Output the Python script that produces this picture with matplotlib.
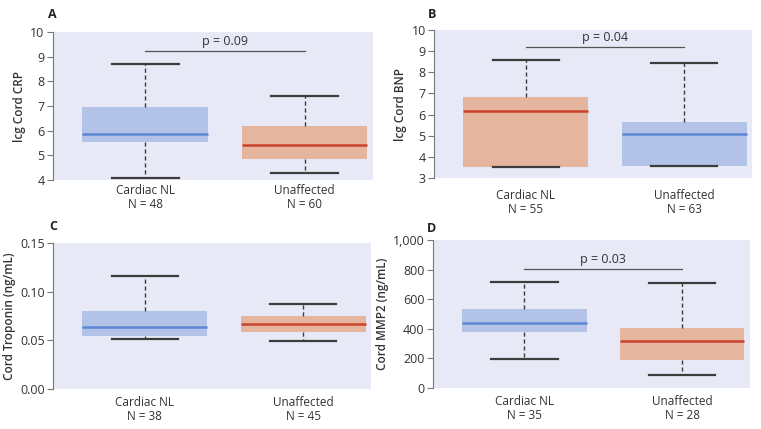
import matplotlib
matplotlib.use("Agg")
import matplotlib.pyplot as plt
from matplotlib.ticker import FuncFormatter

plt.rcParams['font.family'] = ['Open Sans', 'DejaVu Sans']

# group labels and counts
groups = ["Cardiac NL", "Unaffected"]
n_a = [48, 60]
n_b = [55, 63]
n_c = [38, 45]
n_d = [35, 28]

# box stats per panel: [whislo, q1, med, q3, whishi] for each group
crp_cardiac = [4.1, 5.56, 5.86, 6.95, 8.7]
crp_unaff = [4.29, 4.84, 5.43, 6.17, 7.42]
bnp_cardiac = [3.52, 3.52, 6.15, 6.81, 8.6]
bnp_unaff = [3.55, 3.55, 5.09, 5.63, 8.43]
trop_cardiac = [0.0514, 0.055, 0.0642, 0.080, 0.1167]
trop_unaff = [0.0494, 0.059, 0.0669, 0.0751, 0.0875]
mmp_cardiac = [194, 375, 440, 537, 718]
mmp_unaff = [90, 187, 316, 402, 711]

p_a, p_b, p_d = "p = 0.09", "p = 0.04", "p = 0.03"
pbar_a, pbar_b, pbar_d = 9.23, 9.22, 804

BG = "#e7e9f6"
BLUE_FILL = "#b3c3e7"
BLUE_LINE = "#5a87d4"
ORANGE_FILL = "#e6b59d"
RED_LINE = "#c8432d"
DARK = "#3c3c3c"


def stats(vals, label):
    lo, q1, med, q3, hi = vals
    return dict(whislo=lo, q1=q1, med=med, q3=q3, whishi=hi, label=label, fliers=[])


def panel(ax, data, colors, counts, ylim, yticks, ylabel, fmt=None, pval=None, pbar=None, xpad=3):
    ax.set_facecolor(BG)
    labels = [f"{g}\nN = {n}" for g, n in zip(groups, counts)]
    st = [stats(d, l) for d, l in zip(data, labels)]
    bp = ax.bxp(st, positions=[1, 2], widths=0.79, patch_artist=True, showfliers=False,
                whiskerprops=dict(color=DARK, linestyle=(0, (3, 2)), linewidth=1.0),
                capprops=dict(color=DARK, linewidth=1.6),
                boxprops=dict(linewidth=0), capwidths=0.42)
    for box, med, (fill, line) in zip(bp['boxes'], bp['medians'], colors):
        box.set_facecolor(fill)
        box.set_edgecolor(fill)
        med.set_color(line)
        med.set_linewidth(1.8)
    ax.set_xlim(0.42, 2.43)
    ax.set_ylim(*ylim)
    ax.set_yticks(yticks)
    if fmt:
        ax.yaxis.set_major_formatter(FuncFormatter(fmt))
    for s in ['top', 'right', 'bottom']:
        ax.spines[s].set_visible(False)
    ax.spines['left'].set_color("#777777")
    ax.spines['left'].set_linewidth(0.8)
    ax.tick_params(axis='y', length=4, width=0.8, color="#777777", labelsize=9,
                   labelcolor="#333333", pad=2)
    ax.tick_params(axis='x', length=0, labelsize=8.5, labelcolor="#333333", pad=xpad)
    for t in ax.get_xticklabels():
        t.set_linespacing(1.1)
    ax.set_ylabel(ylabel, fontsize=8.5, fontweight='semibold', color="#333333", labelpad=3)
    if pval:
        ax.plot([1, 2], [pbar, pbar], color="#555555", linewidth=0.9)
        span = ylim[1] - ylim[0]
        ax.text(1.5, pbar + span * 0.02, pval, ha='center', va='bottom', fontsize=9, color="#333333")


fig = plt.figure(figsize=(7.61, 4.29), dpi=100)
axA = fig.add_axes([0.0696, 0.5804, 0.4205, 0.345])
axB = fig.add_axes([0.5703, 0.585, 0.418, 0.345])
axC = fig.add_axes([0.0696, 0.0932, 0.418, 0.340])
axD = fig.add_axes([0.569, 0.0956, 0.4165, 0.345])

blue = (BLUE_FILL, BLUE_LINE)
orange = (ORANGE_FILL, RED_LINE)

panel(axA, [crp_cardiac, crp_unaff], [blue, orange], n_a, (4, 10), range(4, 11),
      "lcg Cord CRP", pval=p_a, pbar=pbar_a)
panel(axB, [bnp_cardiac, bnp_unaff], [orange, blue], n_b, (3, 10), range(3, 11),
      "lcg Cord BNP", pval=p_b, pbar=pbar_b, xpad=8)
panel(axC, [trop_cardiac, trop_unaff], [blue, orange], n_c, (0, 0.15), [0, 0.05, 0.10, 0.15],
      "Cord Troponin (ng/mL)", fmt=lambda v, p: f"{v:.2f}", xpad=5)
panel(axD, [mmp_cardiac, mmp_unaff], [blue, orange], n_d, (0, 1000), range(0, 1001, 200),
      "Cord MMP2 (ng/mL)", fmt=lambda v, p: f"{int(v):,}", pval=p_d, pbar=pbar_d, xpad=5)

for lbl, x, y in [("A", 52, 14), ("B", 432, 14), ("C", 53, 227), ("D", 432, 228)]:
    fig.text(x / 761, 1 - y / 429, lbl, fontsize=9, fontweight='bold', color="#222222",
             ha='center', va='center')

fig.savefig("out.png", dpi=100)
